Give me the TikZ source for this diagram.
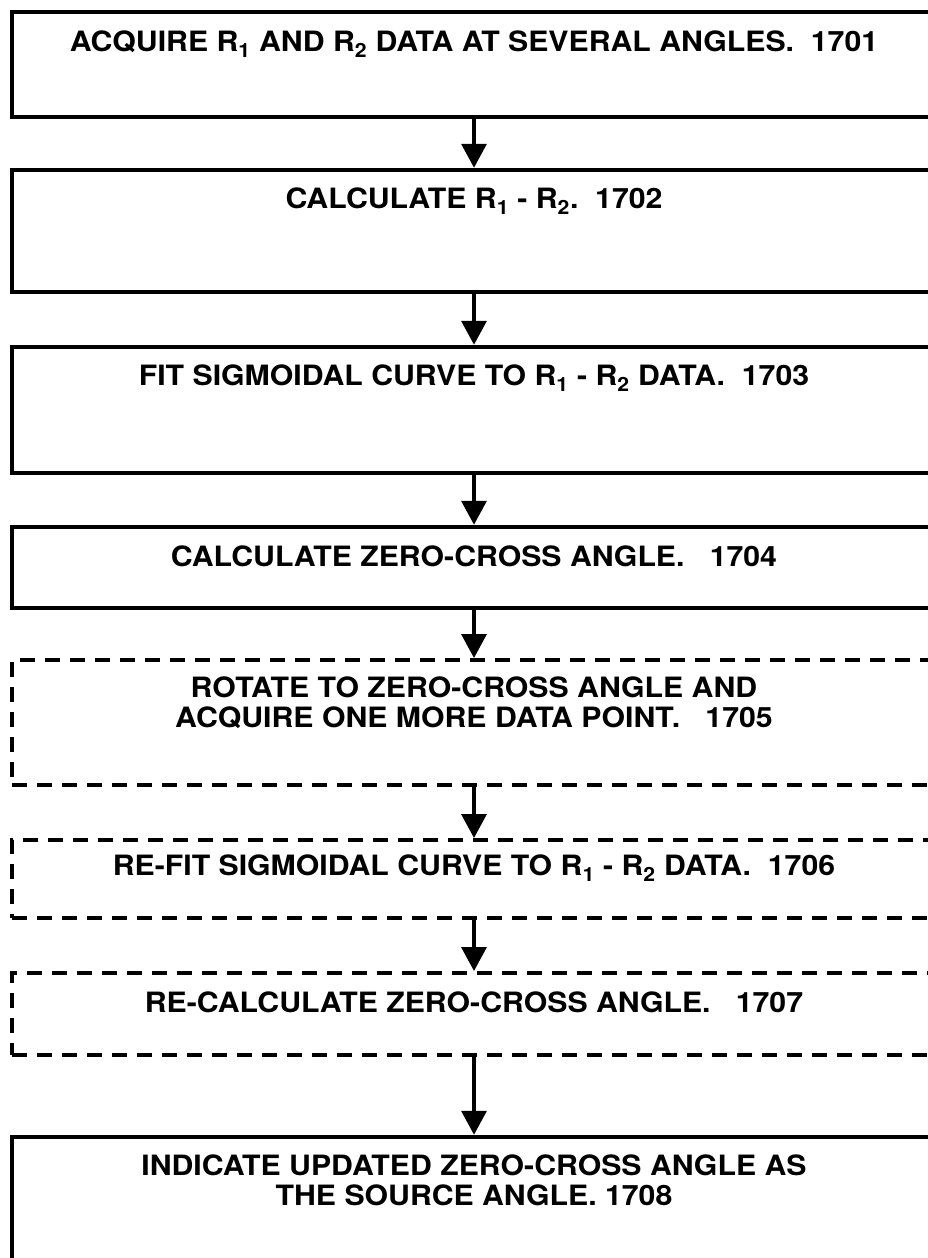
\documentclass[tikz,border=0pt]{standalone}
\usepackage{fontspec}
\setmainfont{TeX Gyre Heros}[FakeStretch=1.08]
\usetikzlibrary{arrows.meta}
\newcommand{\Rs}[1]{R\textsubscript{#1}}
\tikzset{
  box/.style={draw=black, line width=4.5pt, rectangle, inner sep=0pt, minimum width=924pt},
  dbox/.style={draw=black, line width=4pt, rectangle, inner sep=0pt, minimum width=924pt, dash pattern=on 15pt off 10pt},
  lbl/.style={anchor=north, inner sep=0pt, align=center, font=\fontsize{28}{29.5}\selectfont\bfseries},
  arr/.style={line width=3.5pt, -{Triangle[length=24pt,width=25pt]}}
}
\begin{document}
\begin{tikzpicture}[x=1pt,y=1pt]
\useasboundingbox (0,0) rectangle (928,-1258);
\fill[white] (0,0) rectangle (928,-1258);
% boxes: centre x = 474, left edge 12
\node[box, minimum height=105pt] (b1) at (474,-64.5) {};
\node[box, minimum height=122pt] (b2) at (474,-231) {};
\node[box, minimum height=126pt] (b3) at (474,-410) {};
\node[box, minimum height=81pt]  (b4) at (474,-567.5) {};
\node[dbox, minimum height=125pt] (b5) at (474,-722.5) {};
\node[dbox, minimum height=78pt]  (b6) at (474,-879) {};
\node[dbox, minimum height=82pt]  (b7) at (474,-1014) {};
\node[box, minimum height=180pt] (b8) at (474,-1227) {};
% labels
\node[lbl] (t1) at (474,-31) {ACQUIRE \Rs{1} AND \Rs{2} DATA AT SEVERAL ANGLES.\ \ 1701};
\node[lbl] (t2) at (474,-188) {CALCULATE \Rs{1} - \Rs{2}.\ \ 1702};
\node[lbl] (t3) at (474,-365) {FIT SIGMOIDAL CURVE TO \Rs{1} - \Rs{2} DATA.\ \ 1703};
\node[lbl] (t4) at (474,-546) {CALCULATE ZERO-CROSS ANGLE.\ \ \ 1704};
\node[lbl] (t5) at (474,-677) {ROTATE TO ZERO-CROSS ANGLE AND\\ACQUIRE ONE MORE DATA POINT.\ \ \ 1705};
\node[lbl] (t6) at (474,-855) {RE-FIT SIGMOIDAL CURVE TO \Rs{1} - \Rs{2} DATA.\ \ 1706};
\node[lbl] (t7) at (474,-992) {RE-CALCULATE ZERO-CROSS ANGLE.\ \ \ 1707};
\node[lbl] (t8) at (474,-1155) {INDICATE UPDATED ZERO-CROSS ANGLE AS\\THE SOURCE ANGLE. 1708};
% connectors
\draw[arr] (b1.south) -- (b2.north);
\draw[arr] (b2.south) -- (b3.north);
\draw[arr] (b3.south) -- (b4.north);
\draw[arr] (b4.south) -- (b5.north);
\draw[arr] (b5.south) -- (b6.north);
\draw[arr] (b6.south) -- (b7.north);
\draw[arr] (b7.south) -- (b8.north);
\end{tikzpicture}
\end{document}
